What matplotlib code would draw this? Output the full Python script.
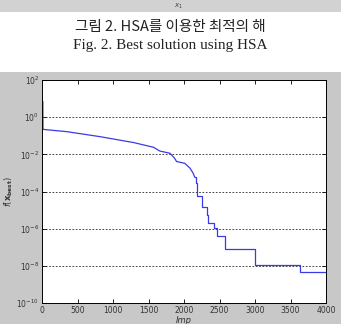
import matplotlib.pyplot as plt
from matplotlib.patches import Rectangle

# best fitness vs. improvisation count
# early part: many tiny improvements -> looks like a smooth slope
imp_early = [0, 12, 14, 350, 820, 1290, 1570, 1660, 1800, 1825, 1870, 1895, 2010,
             2085, 2130, 2150]
f_early = [7.0, 7.0, 0.22, 0.166, 0.089, 0.043, 0.024, 0.015, 0.0115, 0.0093,
           0.0060, 0.0041, 0.0033, 0.0018, 0.00095, 0.00060]
# late part: clear staircase
imp_late = [2150, 2170, 2190, 2250, 2320, 2340, 2420, 2470, 2580, 3000, 3640, 4000]
f_late = [0.00060, 0.00028, 5.4e-5, 1.55e-5, 5.5e-6, 2.0e-6, 1.07e-6, 4.1e-7,
          8.1e-8, 1.05e-8, 4.4e-9, 4.4e-9]
xticks = [0, 500, 1000, 1500, 2000, 2500, 3000, 3500, 4000]
yticks = [1e2, 1e0, 1e-2, 1e-4, 1e-6, 1e-8, 1e-10]
caption_ko = '그림 2. HSA를 이용한 최적의 해'
caption_en = 'Fig. 2. Best solution using HSA'

fig = plt.figure(figsize=(3.41, 3.24), dpi=100)
fig.patch.set_facecolor('white')

# gray strips (previous figure bottom, matlab figure background)
fig.patches.append(Rectangle((0, 1 - 12/324), 1, 12/324, transform=fig.transFigure,
                             facecolor='#d2d2d2', edgecolor='none', zorder=-10))
fig.patches.append(Rectangle((0, 0), 1, 1 - 72/324, transform=fig.transFigure,
                             facecolor='#c8c8c8', edgecolor='none', zorder=-10))
fig.text(178/341, 1 - 6/324, r'$x_1$', fontsize=5, ha='center', va='center', color='#444444')

fig.text(0.5, 1 - 27/324, caption_ko, fontsize=10.5, ha='center', va='center',
         family=['Noto Sans CJK KR', 'DejaVu Sans'], color='#222222')
fig.text(0.5, 1 - 45/324, caption_en, fontsize=11, ha='center', va='center',
         family='Liberation Serif', color='#222222')

ax = fig.add_axes([42/341, 1 - 303/324, 284/341, 223/324])
ax.plot(imp_early, f_early, color='#3a3ae6', lw=0.9)
ax.step(imp_late, f_late, where='post', color='#3a3ae6', lw=0.9)
ax.set_yscale('log')
ax.set_xlim(0, 4000)
ax.set_ylim(1e-10, 1e2)
ax.set_xticks(xticks)
ax.set_yticks(yticks)
ax.minorticks_off()
ax.tick_params(direction='in', top=True, right=True, labelsize=5.5, length=3,
               width=0.6, labelcolor='#333333', pad=2)
ax.grid(axis='y', linestyle=(0, (2, 2)), color='#222222', lw=0.6)
for s in ax.spines.values():
    s.set_linewidth(0.7)
ax.set_xlabel('Imp', fontsize=6, style='italic', labelpad=1, color='#333333')
ax.set_ylabel(r'$f(\mathbf{x_{best}})$', fontsize=6, labelpad=1, color='#333333')

plt.savefig('out.png', dpi=100)
